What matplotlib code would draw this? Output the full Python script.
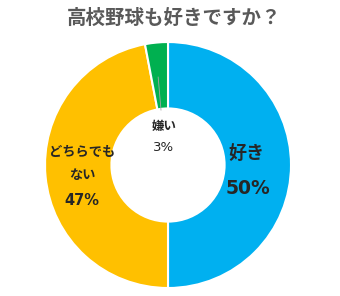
import matplotlib.pyplot as plt

plt.rcParams['font.family'] = ['Noto Sans CJK JP', 'DejaVu Sans']

labels = ["好き", "どちらでもない", "嫌い"]
values = [50, 47, 3]
colors = ["#00B0F0", "#FFC000", "#00B050"]

fig = plt.figure(figsize=(3.4, 2.96), dpi=100)
ax = fig.add_axes([0.1324, 0.027, 0.7235, 0.831])

ax.pie(values, colors=colors, startangle=90, counterclock=False,
       wedgeprops=dict(width=0.54, edgecolor="white", linewidth=1.5))
ax.set_xlim(-1, 1)
ax.set_ylim(-1, 1)
ax.set_aspect("auto")

txt = "#262626"
num = ["DejaVu Sans"]
ax.text(0.64, 0.098, labels[0], ha="center", va="center", fontsize=13, fontweight="bold", color=txt)
ax.text(0.65, -0.187, f"{values[0]}%", ha="center", va="center", fontsize=13.5,
        fontweight="bold", color=txt, family=num)
ax.text(-0.70, 0.106, "どちらでも", ha="center", va="center", fontsize=9.5, fontweight="bold", color=txt)
ax.text(-0.70, -0.081, "ない", ha="center", va="center", fontsize=9.5, fontweight="bold", color=txt)
ax.text(-0.70, -0.285, f"{values[1]}%", ha="center", va="center", fontsize=10.5,
        fontweight="bold", color=txt, family=num)
ax.text(-0.03, 0.31, labels[2], ha="center", va="center", fontsize=9, fontweight="bold", color=txt)
ax.text(-0.035, 0.14, f"{values[2]}%", ha="center", va="center", fontsize=9.5, color=txt, family=num)
ax.plot([-0.08, -0.057], [0.715, 0.447], color="#A6A6A6", linewidth=0.6)

fig.text(0.512, 0.939, "高校野球も好きですか？", ha="center", va="center",
         fontsize=14, fontweight="bold", color="#595959")

fig.savefig("out.png", dpi=100)
